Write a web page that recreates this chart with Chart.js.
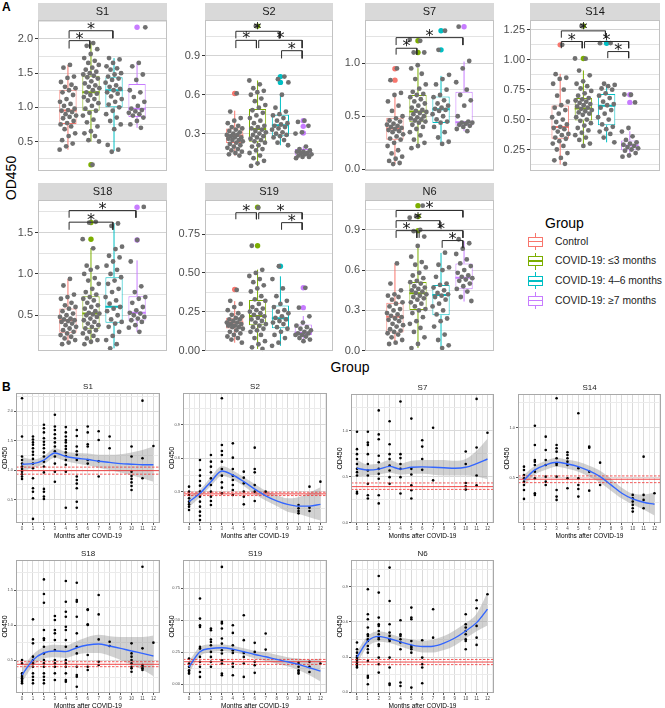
<!DOCTYPE html>
<html>
<head>
<meta charset="utf-8">
<title>OD450 by group and months after COVID-19</title>
<script src="https://cdn.jsdelivr.net/npm/chart.js@4.4.1/dist/chart.umd.min.js"></script>
<style>
html,body{margin:0;padding:0;background:#fff;}
#wrap{position:relative;width:665px;height:708px;overflow:hidden;font-family:"Liberation Sans",Arial,Helvetica,sans-serif;color:#000;}
#wrap canvas{position:absolute;}
.lbl{position:absolute;white-space:nowrap;line-height:1;}
</style>
</head>
<body>
<div id="wrap">
  <div class="lbl" style="left:2px;top:1px;font-weight:bold;font-size:12px;">A</div>
  <div class="lbl" style="left:2px;top:381px;font-weight:bold;font-size:12px;">B</div>
  <div class="lbl" style="left:11px;top:178px;font-size:14px;transform:translate(-50%,-50%) rotate(-90deg);">OD450</div>
  <div class="lbl" style="left:350px;top:367px;font-size:14px;transform:translate(-50%,-50%);">Group</div>
  <div class="lbl" style="left:545px;top:223px;font-size:14px;transform:translate(0,-50%);">Group</div>
</div>
<script>
// ---------------- DATA ----------------
const groupNames = ["Control", "COVID-19: \u22643 months", "COVID-19: 4\u20136 months", "COVID-19: \u22657 months"];
const monthsB = [0,1,2,3,4,5,6,7,8,9,10,11,12];

// Panel A: jittered values per group, box stats [lowWhisker,q1,median,q3,highWhisker], outliers [group,value], brackets [g1,g2,barY,tipY]
const ptsS1 = [
 [1.62,1.58,1.45,1.43,1.37,1.33,1.30,1.28,1.25,1.22,1.18,1.12,1.08,1.05,1.02,0.98,0.96,0.95,0.93,0.90,0.88,0.86,0.84,0.80,0.77,0.75,0.72,0.68,0.62,0.58,0.52,0.47,0.43,0.38],
 [1.94,1.90,1.85,1.78,1.72,1.68,1.65,1.62,1.58,1.55,1.52,1.50,1.48,1.46,1.44,1.42,1.38,1.35,1.32,1.30,1.28,1.25,1.22,1.20,1.18,1.15,1.12,1.10,1.06,1.02,0.98,0.95,0.92,0.88,0.82,0.78,0.72,0.65,0.62,0.58,0.52,0.50,0.16],
 [1.72,1.70,1.65,1.60,1.57,1.55,1.50,1.48,1.45,1.42,1.40,1.36,1.32,1.30,1.27,1.25,1.22,1.20,1.16,1.12,1.08,1.04,1.00,0.95,0.90,0.85,0.80,0.75,0.68,0.45,0.38,0.35],
 [2.17,1.65,1.60,1.48,1.40,1.25,1.22,1.15,1.08,1.02,0.98,0.96,0.94,0.92,0.90,0.88,0.85,0.80,0.75,0.70]];
const boxS1 = [[0.38,0.757,0.955,1.257,1.62],[0.50,0.95,1.22,1.46,1.94],[0.36,1.00,1.25,1.44,1.72],[0.70,0.86,0.98,1.34,1.66]];
const outS1 = [[2,0.16],[4,2.17]];
const sigS1 = [[1,2,1.975,1.86],[1,3,2.12,2.01]];
const ticksS1 = ["0.5","1.0","1.5","2.0"];
const rangeS1 = [0.063,2.277];

const ptsS2 = [
 [0.61,0.47,0.42,0.40,0.38,0.36,0.35,0.34,0.33,0.32,0.31,0.30,0.29,0.29,0.28,0.27,0.27,0.26,0.25,0.25,0.24,0.23,0.22,0.21,0.20,0.19,0.18,0.17,0.16,0.15,0.14,0.13],
 [1.13,0.71,0.68,0.65,0.63,0.62,0.60,0.57,0.55,0.52,0.50,0.48,0.46,0.44,0.42,0.40,0.38,0.36,0.35,0.34,0.33,0.32,0.31,0.30,0.29,0.28,0.27,0.26,0.25,0.24,0.23,0.21,0.20,0.18,0.17,0.15,0.13,0.11,0.09,0.07,0.05],
 [0.74,0.72,0.695,0.60,0.50,0.47,0.45,0.44,0.42,0.40,0.38,0.37,0.36,0.35,0.34,0.33,0.31,0.30,0.29,0.28,0.27,0.25,0.23,0.21],
 [0.40,0.39,0.36,0.31,0.30,0.20,0.18,0.17,0.16,0.16,0.15,0.15,0.14,0.14,0.13,0.12,0.12,0.11]];
const boxS2 = [[0.13,0.228,0.285,0.34,0.477],[0.05,0.236,0.336,0.49,0.71],[0.21,0.28,0.364,0.446,0.605],[0.11,0.13,0.155,0.18,0.20]];
const outS2 = [[1,0.61],[2,1.13],[3,0.74],[3,0.695],[4,0.40],[4,0.356],[4,0.305]];
const sigS2 = [[1,3,1.09,1.035],[1,2,1.02,0.96],[2,4,1.02,0.96],[3,4,0.94,0.88]];
const ticksS2 = ["0.3","0.6","0.9"];
const rangeS2 = [0.008,1.177];

const ptsS7 = [
 [0.95,0.84,0.72,0.70,0.64,0.60,0.55,0.50,0.48,0.46,0.45,0.43,0.42,0.41,0.40,0.39,0.38,0.37,0.36,0.35,0.33,0.31,0.29,0.28,0.25,0.22,0.18,0.15,0.12,0.10,0.08,0.06,0.05],
 [1.22,1.21,1.10,1.10,0.98,0.95,0.90,0.85,0.80,0.76,0.73,0.71,0.70,0.68,0.66,0.64,0.62,0.60,0.58,0.56,0.55,0.54,0.53,0.52,0.50,0.49,0.48,0.47,0.46,0.45,0.44,0.42,0.40,0.38,0.35,0.32,0.28,0.25,0.22,0.20],
 [1.305,1.125,0.89,0.85,0.80,0.75,0.70,0.68,0.65,0.62,0.60,0.58,0.57,0.56,0.55,0.52,0.50,0.47,0.45,0.44,0.40,0.35,0.30,0.26,0.24],
 [1.343,1.02,0.95,0.82,0.75,0.70,0.65,0.60,0.50,0.45,0.44,0.44,0.43,0.42,0.41,0.40,0.38,0.36]];
const boxS7 = [[0.05,0.28,0.384,0.485,0.72],[0.20,0.443,0.544,0.70,0.953],[0.24,0.437,0.565,0.687,0.88],[0.36,0.41,0.443,0.73,1.015]];
const outS7 = [[1,0.947],[1,0.84],[2,1.21],[2,1.10],[3,1.305],[3,1.125],[4,1.343]];
const sigS7 = [[1,2,1.14,1.08],[1,4,1.24,1.17]];
const ticksS7 = ["0.0","0.5","1.0"];
const rangeS7 = [-0.019,1.406];

const ptsS14 = [
 [1.125,0.88,0.85,0.84,0.80,0.75,0.70,0.65,0.62,0.60,0.58,0.55,0.52,0.50,0.48,0.46,0.44,0.43,0.42,0.40,0.38,0.37,0.35,0.34,0.32,0.30,0.28,0.25,0.22,0.18,0.16,0.13],
 [1.283,1.011,1.01,0.91,0.87,0.82,0.80,0.78,0.76,0.74,0.72,0.70,0.68,0.67,0.66,0.65,0.64,0.63,0.62,0.61,0.60,0.59,0.58,0.57,0.56,0.55,0.54,0.52,0.50,0.49,0.47,0.45,0.43,0.41,0.39,0.37,0.35,0.33,0.30,0.28],
 [1.139,1.14,0.80,0.79,0.78,0.76,0.75,0.72,0.70,0.68,0.65,0.63,0.62,0.60,0.58,0.55,0.52,0.50,0.46,0.44,0.42,0.40,0.38,0.35,0.31],
 [0.708,0.71,0.644,0.43,0.40,0.36,0.33,0.31,0.30,0.29,0.28,0.27,0.26,0.25,0.24,0.22,0.20,0.19]];
const boxS14 = [[0.125,0.339,0.439,0.619,0.883],[0.278,0.492,0.594,0.681,0.911],[0.31,0.453,0.617,0.714,0.79],[0.194,0.244,0.283,0.325,0.403]];
const outS14 = [[1,1.125],[2,1.011],[2,1.283],[3,1.139],[4,0.708],[4,0.644]];
const sigS14 = [[1,3,1.242,1.185],[1,2,1.153,1.097],[2,4,1.153,1.097],[3,4,1.069,1.014]];
const ticksS14 = ["0.25","0.50","0.75","1.00","1.25"];
const rangeS14 = [0.067,1.333];

const ptsS18 = [
 [0.94,0.86,0.75,0.72,0.70,0.65,0.62,0.60,0.58,0.55,0.52,0.50,0.48,0.46,0.45,0.44,0.43,0.42,0.40,0.38,0.36,0.34,0.32,0.30,0.28,0.26,0.24,0.22,0.20,0.17,0.15],
 [1.63,1.62,1.42,1.31,1.10,1.08,1.05,1.00,0.95,0.92,0.88,0.82,0.78,0.75,0.72,0.70,0.68,0.65,0.62,0.60,0.58,0.55,0.53,0.52,0.51,0.50,0.48,0.46,0.44,0.42,0.40,0.38,0.36,0.34,0.32,0.30,0.28,0.25,0.22,0.20,0.18,0.15],
 [1.61,1.58,1.33,1.30,1.22,1.20,1.15,1.10,1.05,1.00,0.96,0.92,0.88,0.82,0.78,0.72,0.68,0.64,0.60,0.58,0.55,0.50,0.45,0.42,0.40,0.36,0.30,0.25,0.20,0.15,0.10],
 [1.81,1.41,1.15,0.85,0.78,0.72,0.70,0.65,0.60,0.56,0.53,0.52,0.50,0.48,0.46,0.44,0.42,0.38,0.35,0.30]];
const boxS18 = [[0.15,0.289,0.441,0.582,0.94],[0.15,0.337,0.522,0.73,1.313],[0.10,0.41,0.602,0.96,1.614],[0.30,0.437,0.53,0.73,1.164]];
const outS18 = [[2,1.622],[2,1.42],[4,1.807],[4,1.41]];
const sigS18 = [[1,4,1.766,1.68],[1,3,1.626,1.534]];
const ticksS18 = ["0.5","1.0","1.5"];
const rangeS18 = [0.063,1.894];

const ptsS19 = [
 [0.39,0.32,0.30,0.28,0.26,0.24,0.23,0.22,0.21,0.20,0.20,0.19,0.18,0.18,0.17,0.17,0.16,0.16,0.15,0.15,0.14,0.13,0.12,0.11,0.10,0.09,0.08,0.07,0.05],
 [0.92,0.675,0.52,0.50,0.48,0.46,0.44,0.42,0.40,0.38,0.35,0.33,0.32,0.30,0.28,0.27,0.26,0.25,0.24,0.23,0.22,0.21,0.20,0.19,0.18,0.17,0.16,0.15,0.14,0.13,0.12,0.10,0.08,0.06,0.04,0.02,0.01],
 [0.543,0.46,0.40,0.35,0.32,0.30,0.28,0.26,0.25,0.24,0.22,0.21,0.20,0.19,0.18,0.17,0.15,0.14,0.12,0.10,0.08,0.05,0.03],
 [0.404,0.276,0.22,0.18,0.16,0.15,0.14,0.13,0.12,0.11,0.11,0.10,0.10,0.09,0.08,0.07,0.06]];
const boxS19 = [[0.05,0.141,0.18,0.211,0.318],[0.01,0.162,0.222,0.325,0.521],[0.03,0.143,0.207,0.29,0.478],[0.06,0.10,0.115,0.167,0.222]];
const outS19 = [[1,0.393],[2,0.675],[2,0.923],[3,0.543],[4,0.404],[4,0.276]];
const sigS19 = [[1,2,0.888,0.846],[2,4,0.888,0.846],[3,4,0.824,0.778]];
const ticksS19 = ["0.00","0.25","0.50","0.75"];
const rangeS19 = [-0.006,0.97];

const ptsN6 = [
 [0.65,0.50,0.45,0.42,0.41,0.40,0.38,0.36,0.35,0.33,0.31,0.30,0.28,0.27,0.26,0.25,0.24,0.23,0.22,0.20,0.19,0.18,0.16,0.15,0.14,0.13,0.12,0.10,0.08,0.06,0.05],
 [1.08,1.00,0.99,0.90,0.89,0.85,0.78,0.70,0.66,0.64,0.62,0.58,0.56,0.54,0.52,0.51,0.50,0.48,0.47,0.46,0.45,0.44,0.43,0.42,0.41,0.40,0.39,0.38,0.36,0.35,0.33,0.31,0.30,0.28,0.25,0.22,0.20,0.17,0.14,0.10,0.05,0.02],
 [0.73,0.64,0.62,0.60,0.55,0.50,0.49,0.47,0.45,0.43,0.42,0.41,0.40,0.38,0.35,0.33,0.30,0.27,0.24,0.22,0.18,0.12,0.08,0.04,0.02],
 [0.83,0.80,0.76,0.72,0.68,0.65,0.63,0.60,0.58,0.56,0.55,0.54,0.53,0.52,0.50,0.48,0.46,0.44,0.40,0.37]];
const boxN6 = [[0.05,0.136,0.252,0.358,0.65],[0.02,0.304,0.427,0.511,0.778],[0.02,0.264,0.415,0.489,0.728],[0.366,0.457,0.543,0.65,0.815]];
const outN6 = [[2,0.894],[2,1.00],[2,1.08]];
const sigN6 = [[1,4,1.044,0.993],[1,3,0.968,0.914],[1,2,0.894,0.84],[2,4,0.894,0.84],[3,4,0.82,0.766]];
const ticksN6 = ["0.0","0.3","0.6","0.9"];
const rangeN6 = [-0.005,1.122];

// Panel B: values per month (0..12), loess fit + CI, control mean [mean, low, high]
const byMonthS1B = [[2.22,1.57,1.23,1.17,1.11,1.06,1.02,0.97,0.93,0.89,0.85],[1.57,1.52,1.47,1.43,1.37,1.31,1.26,1.19,1.11,1.03,0.86,0.69,0.63,0.52,0.17],[1.77,1.71,1.64,1.54,1.48,1.43,1.37,1.30,1.23,1.14,1.06,0.96,0.68,0.63,0.55,0.51],[1.94,1.74,1.68,1.61,1.54,1.47,1.40,1.32,1.23,1.11,0.97,0.80],[1.73,1.64,1.57,1.51,1.47,1.41,1.36,1.30,1.24,1.17,1.09,0.97,0.36],[1.68,1.58,1.40,1.32,1.26,1.17,0.89,0.83,0.77,0.69,0.46,0.36],[1.74,1.64,1.44,1.40,1.17,1.11],[1.66,1.51,1.15,0.89],[1.57,1.37],[],[1.40,1.23,0.97,0.90,0.85,0.79,0.73,0.66],[2.18,1.20,0.86],[1.41]];
const fitS1B = [1.10,1.11,1.17,1.29,1.23,1.20,1.18,1.15,1.13,1.11,1.10,1.09,1.09];
const loS1B = [0.98,1.04,1.10,1.21,1.15,1.11,1.08,1.04,1.00,0.96,0.91,0.86,0.80];
const hiS1B = [1.22,1.18,1.24,1.37,1.31,1.29,1.28,1.26,1.26,1.27,1.30,1.34,1.40];
const ctrlS1B = [0.99,0.93,1.05];
const ticksS1B = ["0.5","1.0","1.5","2.0"];
const rangeS1B = [0.1,2.31];

const byMonthS2B = [[0.345,0.30,0.27,0.24,0.21,0.186,0.165,0.135],[0.585,0.495,0.444,0.396,0.354,0.30,0.255,0.21,0.165,0.12,0.083,0.044],[0.63,0.57,0.525,0.474,0.42,0.36,0.30,0.255,0.216,0.18],[1.141,0.72,0.666,0.63,0.57,0.504,0.444,0.384,0.336,0.285],[0.735,0.606,0.504,0.444,0.405,0.36,0.315,0.27],[0.48,0.426,0.375,0.30,0.255,0.186],[0.696,0.504,0.474,0.36,0.30,0.216],[0.30],[],[],[0.18,0.15,0.126,0.105],[0.345,0.156,0.126],[0.39]];
const fitS2B = [0.21,0.285,0.39,0.486,0.45,0.39,0.323,0.263,0.218,0.186,0.17,0.17,0.186];
const loS2B = [0.16,0.25,0.35,0.44,0.41,0.35,0.28,0.22,0.17,0.12,0.10,0.07,0.04];
const hiS2B = [0.26,0.32,0.43,0.53,0.49,0.43,0.37,0.31,0.27,0.24,0.25,0.29,0.34];
const ctrlS2B = [0.28,0.265,0.295];
const ticksS2B = ["0.3","0.6","0.9"];
const rangeS2B = [0.018,1.188];

const byMonthS7B = [[0.986,0.797,0.743,0.69,0.636,0.583,0.547,0.511,0.333,0.315],[0.986,0.868,0.843,0.743,0.636,0.565,0.511,0.422,0.297,0.261],[1.218,0.957,0.904,0.725,0.654,0.583,0.529,0.476,0.297,0.208],[1.10,0.85,0.743,0.69,0.618,0.565,0.493,0.422],[1.314,0.743,0.70,0.636,0.583,0.493,0.315],[1.129,0.583,0.522,0.404,0.351,0.261],[0.893,0.825,0.69,0.572],[1.029,0.458],[],[],[0.772,0.636,0.429,0.394,0.358],[1.343,0.815,0.511,0.404],[0.975]];
const fitS7B = [0.59,0.57,0.58,0.61,0.58,0.60,0.605,0.60,0.595,0.59,0.60,0.64,0.69];
const loS7B = [0.50,0.51,0.52,0.54,0.52,0.53,0.53,0.52,0.51,0.51,0.51,0.50,0.47];
const hiS7B = [0.68,0.63,0.64,0.68,0.64,0.67,0.68,0.68,0.68,0.67,0.69,0.78,0.91];
const ctrlS7B = [0.39,0.36,0.43];
const ticksS7B = ["0.0","0.5","1.0"];
const rangeS7B = [-0.005,1.396];

const byMonthS14B = [[0.61,0.577,0.527,0.494,0.46,0.427,0.377,0.287],[1.02,0.827,0.677,0.66,0.627,0.56,0.494,0.344,0.327],[0.91,0.777,0.677,0.627,0.51,0.46,0.427],[1.294,0.827,0.794,0.76,0.694,0.644,0.627,0.51,0.377,0.31,0.277],[0.754,0.727,0.694,0.66,0.627,0.494,0.394],[1.144,0.594,0.494,0.427,0.387,0.31],[0.81,0.80,0.56,0.37],[0.65,0.427],[],[],[0.327,0.294,0.26,0.227,0.194,0.16],[0.71,0.327,0.277,0.194],[0.344]];
const fitS14B = [0.477,0.577,0.627,0.654,0.637,0.61,0.567,0.51,0.427,0.344,0.287,0.254,0.234];
const loS14B = [0.42,0.53,0.58,0.61,0.59,0.56,0.51,0.45,0.37,0.29,0.23,0.18,0.12];
const hiS14B = [0.53,0.62,0.67,0.70,0.68,0.66,0.62,0.57,0.49,0.40,0.34,0.33,0.35];
const ctrlS14B = [0.484,0.45,0.517];
const ticksS14B = ["0.5","1.0"];
const rangeS14B = [0.046,1.337];

const byMonthS18B = [[0.50,0.452,0.31,0.286,0.262,0.238,0.214,0.19,0.167],[1.081,0.795,0.738,0.548,0.50,0.452,0.405,0.31,0.262,0.214,0.167],[1.652,1.443,1.319,0.929,0.81,0.786,0.69,0.595,0.50,0.452,0.405,0.31,0.262,0.214,0.167],[1.129,1.071,0.929,0.881,0.786,0.643,0.50,0.452,0.405,0.31,0.214],[1.629,1.333,1.19,1.119,0.976,0.929,0.786,0.69,0.50,0.452,0.405,0.31,0.214,0.19],[1.605,1.357,1.333,1.119,0.881,0.69,0.595,0.405,0.286,0.262,0.119],[1.224,1.214,1.01,1.00,0.571,0.405,0.357],[1.429,1.152,0.795,0.476,0.429],[0.762,0.70],[],[0.738,0.595,0.548,0.50,0.452,0.405,0.381,0.333],[1.833,0.667,0.429,0.405,0.381,0.357],[0.748]];
const fitS18B = [0.286,0.50,0.604,0.629,0.62,0.676,0.714,0.729,0.70,0.667,0.629,0.595,0.557];
const loS18B = [0.18,0.42,0.52,0.54,0.53,0.58,0.60,0.60,0.56,0.50,0.43,0.36,0.27];
const hiS18B = [0.39,0.58,0.69,0.72,0.71,0.77,0.83,0.86,0.84,0.83,0.83,0.83,0.85];
const ctrlS18B = [0.439,0.405,0.476];
const ticksS18B = ["0.5","1.0","1.5"];
const rangeS18B = [0.029,1.929];

const byMonthS19B = [[0.20,0.161,0.135,0.108,0.095,0.082],[0.67,0.513,0.461,0.448,0.291,0.278,0.213,0.174,0.135,0.095,0.056],[0.435,0.422,0.349,0.33,0.304,0.252,0.213,0.174,0.135],[0.918,0.487,0.474,0.435,0.357,0.317,0.265,0.239,0.187,0.161,0.082,0.069],[0.461,0.401,0.304,0.265,0.244,0.161,0.135,0.069],[0.539,0.344,0.244,0.213,0.161,0.056],[0.323,0.252,0.174,0.148,0.088],[0.396,0.27],[],[],[0.166,0.135,0.108,0.095,0.082],[0.174,0.135,0.095],[0.161]];
const fitS19B = [0.135,0.253,0.279,0.285,0.274,0.253,0.232,0.214,0.193,0.175,0.154,0.128,0.102];
const loS19B = [0.09,0.22,0.25,0.26,0.25,0.23,0.20,0.18,0.16,0.14,0.11,0.07,0.02];
const hiS19B = [0.18,0.29,0.31,0.31,0.30,0.28,0.26,0.25,0.23,0.21,0.20,0.19,0.20];
const ctrlS19B = [0.175,0.154,0.193];
const ticksS19B = ["0.00","0.25","0.50","0.75"];
const rangeS19B = [-0.07,0.972];

const byMonthN6B = [[0.424,0.367,0.338,0.31,0.296,0.282,0.267,0.253,0.239,0.225,0.211],[0.878,0.665,0.623,0.552,0.495,0.481,0.452,0.438,0.395,0.367,0.338,0.267,0.14,0.125,0.069],[0.992,0.85,0.637,0.58,0.566,0.523,0.495,0.466,0.452,0.41,0.395,0.296,0.239,0.168],[1.063,0.779,0.58,0.509,0.481,0.452,0.438,0.296,0.211,0.074,0.063],[0.614,0.495,0.481,0.452,0.424,0.367,0.083,0.054],[0.722,0.637,0.623,0.438,0.395,0.381,0.367,0.338,0.04],[0.444,0.296,0.239,0.211,0.077],[0.708,0.466],[],[],[0.665,0.58,0.552,0.523,0.495,0.452,0.438,0.367],[0.785,0.716,0.566,0.466,0.404],[0.836]];
const fitN6B = [0.30,0.437,0.477,0.457,0.43,0.404,0.39,0.393,0.42,0.463,0.523,0.594,0.709];
const loN6B = [0.25,0.39,0.43,0.42,0.39,0.36,0.34,0.34,0.36,0.40,0.46,0.52,0.57];
const hiN6B = [0.35,0.48,0.52,0.50,0.47,0.45,0.44,0.45,0.48,0.53,0.59,0.67,0.85];
const ctrlN6B = [0.258,0.236,0.28];
const ticksN6B = ["0.0","0.3","0.6","0.9"];
const rangeN6B = [-0.006,1.128];

// ---------------- STYLE / LAYOUT ----------------
const COLORS = ['#F8766D','#7CAE00','#00BFC4','#C77CFF'];
const FONT = '"Liberation Sans", Arial, Helvetica, sans-serif';
Chart.defaults.font.family = FONT;
Chart.defaults.animation = false;
Chart.defaults.events = [];
Chart.defaults.plugins.legend.display = false;
Chart.defaults.plugins.tooltip.enabled = false;

const wrap = document.getElementById('wrap');
function addCanvas(l,t,w,h){
  const c = document.createElement('canvas');
  c.width = w; c.height = h;
  c.style.left = l+'px'; c.style.top = t+'px';
  c.style.width = w+'px'; c.style.height = h+'px';
  wrap.appendChild(c);
  return c;
}
function tickSetup(labels, min, max){
  const major = labels.map(Number);
  const half = (major[1]-major[0])/2;
  const kmin = Math.ceil((min-major[0])/half - 1e-9);
  const kmax = Math.floor((max-major[0])/half + 1e-9);
  const vals = [];
  for (let k=kmin;k<=kmax;k++) vals.push(+(major[0]+k*half).toFixed(6));
  const lab = new Map();
  labels.forEach((s,i)=>lab.set(+major[i].toFixed(6), s));
  return {vals, lab};
}
const isMaj = (c,t)=> !!(c.tick && t.lab.has(+Number(c.tick.value).toFixed(6)));
const jit = (i)=> ((((i+1)*0.6180339887)%1)-0.5)*0.74;
function lineDs(data,color,width,order,extra){
  return Object.assign({type:'line', data, borderColor:color, borderWidth:width, pointRadius:0, fill:false, tension:0, order, borderCapStyle:'butt'}, extra||{});
}

// ---------------- PANEL A ----------------
function drawA(name, pts, box, out, sig, ticks, range, rect){
  const [L,T,Wd,H] = rect, AX=30, ST=17, PB=8, HW=0.375;
  const cv = addCanvas(L-AX, T-ST, AX+Wd+1, ST+H+PB);
  const tk = tickSetup(ticks, range[0], range[1]);
  const ds = [];
  ds.push({type:'bar', data: box.map((b,i)=>({x:i+1, y:[b[1],b[3]]})), backgroundColor:'#ffffff', borderColor:COLORS, borderWidth:1, borderSkipped:false, barPercentage:0.75, categoryPercentage:1, order:60});
  box.forEach((b,i)=>{
    const g=i+1, c=COLORS[i];
    ds.push(lineDs([{x:g,y:b[3]},{x:g,y:b[4]}], c, 1, 55));
    ds.push(lineDs([{x:g,y:b[0]},{x:g,y:b[1]}], c, 1, 55));
    ds.push(lineDs([{x:g-HW,y:b[2]},{x:g+HW,y:b[2]}], c, 2, 50));
  });
  ds.push({type:'scatter', data: out.map(o=>({x:o[0], y:o[1]})), pointBackgroundColor: out.map(o=>COLORS[o[0]-1]), pointBorderWidth:0, pointRadius:2.7, order:40});
  const grey=[]; let n=0;
  pts.forEach((arr,i)=>arr.forEach(v=>{ grey.push({x:i+1+jit(n), y:v}); n++; }));
  ds.push({type:'scatter', data:grey, pointBackgroundColor:'#707070', pointBorderWidth:0, pointRadius:2.4, order:30});
  sig.forEach(s=>{
    const a=s[0]+0.05, b=s[1]-0.05;
    ds.push(lineDs([{x:a,y:s[3]},{x:a,y:s[2]},{x:b,y:s[2]},{x:b,y:s[3]}], '#2b2b2b', 1, 10));
  });
  const deco = {id:'decoA', afterDraw(chart){
    const {ctx, chartArea:a, scales:{x,y}} = chart;
    ctx.save();
    ctx.fillStyle='#d9d9d9'; ctx.fillRect(a.left, a.top-ST, a.right-a.left, ST);
    ctx.strokeStyle='#c2c2c2'; ctx.lineWidth=1;
    ctx.strokeRect(Math.round(a.left)+0.5, Math.round(a.top)+0.5, Math.round(a.right-a.left)-1, Math.round(a.bottom-a.top)-1);
    ctx.fillStyle='#1a1a1a'; ctx.font='11px '+FONT; ctx.textAlign='center'; ctx.textBaseline='middle';
    ctx.fillText(name, (a.left+a.right)/2, a.top-ST/2+0.5);
    ctx.font='16px "DejaVu Sans", sans-serif'; ctx.textBaseline='alphabetic';
    sig.forEach(s=>{ ctx.fillText('*', x.getPixelForValue((s[0]+s[1])/2), y.getPixelForValue(s[2])+3); });
    ctx.restore();
  }};
  new Chart(cv, {
    type:'scatter',
    data:{datasets:ds},
    options:{
      responsive:false, animation:false, events:[],
      layout:{padding:{left:0, top:ST, right:1, bottom:PB}},
      scales:{
        x:{type:'linear', min:0.4, max:4.6, display:false,
           afterBuildTicks:(s)=>{ s.ticks = box.map((b,i)=>({value:i+1})); }},
        y:{type:'linear', min:range[0], max:range[1],
          afterBuildTicks:(s)=>{ s.ticks = tk.vals.map(v=>({value:v})); },
          afterFit:(s)=>{ s.width = AX; },
          ticks:{autoSkip:false, padding:2, color:'#4d4d4d', font:{size:11}, callback:(v)=> tk.lab.get(+Number(v).toFixed(6)) ?? ''},
          grid:{color:(c)=> isMaj(c,tk) ? '#d3d3d3' : '#e3e3e3', tickColor:(c)=> isMaj(c,tk) ? '#333333' : 'rgba(0,0,0,0)', tickLength:3, lineWidth:1},
          border:{display:false}
        }
      }
    },
    plugins:[deco]
  });
}

// ---------------- PANEL B ----------------
function drawB(name, byMonth, fit, lo, hi, ctrl, ticks, range, rect){
  const [L,T,Wd,H] = rect, AX=16, TOP=12, XB=17, R=2, XMIN=-0.55, XMAX=12.6;
  const cv = addCanvas(L-AX, T-TOP, AX+Wd+R, TOP+H+XB);
  const ty = tickSetup(ticks, range[0], range[1]);
  const tx = tickSetup(monthsB.map(String), XMIN, XMAX);
  const pts = [];
  byMonth.forEach((arr,i)=>arr.forEach(v=>pts.push({x:monthsB[i], y:v})));
  const hl = (v,dash,w)=> lineDs([{x:XMIN,y:v},{x:XMAX,y:v}], 'rgba(240,40,40,0.85)', w, 20, dash?{borderDash:[2.5,1.5]}:{});
  const ds = [
    {type:'line', data: monthsB.map((m,i)=>({x:m,y:lo[i]})), borderWidth:0, borderColor:'rgba(0,0,0,0)', pointRadius:0, fill:false, cubicInterpolationMode:'monotone', order:60},
    {type:'line', data: monthsB.map((m,i)=>({x:m,y:hi[i]})), borderWidth:0, borderColor:'rgba(0,0,0,0)', pointRadius:0, fill:'-1', backgroundColor:'rgba(153,153,153,0.45)', cubicInterpolationMode:'monotone', order:59},
    {type:'scatter', data:pts, pointBackgroundColor:'#000000', pointBorderWidth:0, pointRadius:1.3, order:40},
    hl(ctrl[0], false, 1), hl(ctrl[1], true, 0.9), hl(ctrl[2], true, 0.9),
    lineDs(monthsB.map((m,i)=>({x:m,y:fit[i]})), '#3366FF', 1.4, 10, {cubicInterpolationMode:'monotone'})
  ];
  const deco = {id:'decoB', afterDraw(chart){
    const {ctx, chartArea:a} = chart;
    ctx.save();
    ctx.strokeStyle='#a8a8a8'; ctx.lineWidth=1;
    ctx.strokeRect(Math.round(a.left)+0.5, Math.round(a.top)+0.5, Math.round(a.right-a.left)-1, Math.round(a.bottom-a.top)-1);
    ctx.fillStyle='#1a1a1a'; ctx.font='8px '+FONT; ctx.textAlign='center'; ctx.textBaseline='middle';
    ctx.fillText(name, (a.left+a.right)/2, a.top-6);
    ctx.restore();
  }};
  new Chart(cv, {
    type:'scatter',
    data:{datasets:ds},
    options:{
      responsive:false, animation:false, events:[],
      layout:{padding:{left:0, top:TOP, right:R, bottom:0}},
      scales:{
        x:{type:'linear', min:XMIN, max:XMAX,
          afterBuildTicks:(s)=>{ s.ticks = tx.vals.map(v=>({value:v})); },
          afterFit:(s)=>{ s.height = XB; },
          ticks:{autoSkip:false, maxRotation:0, minRotation:0, padding:1, color:'#4d4d4d', font:{size:4.5}, callback:(v)=> tx.lab.get(+Number(v).toFixed(6)) ?? ''},
          grid:{color:(c)=> isMaj(c,tx) ? '#dadada' : '#ebebeb', tickColor:(c)=> isMaj(c,tx) ? '#555555' : 'rgba(0,0,0,0)', tickLength:2, lineWidth:1},
          border:{display:false},
          title:{display:true, text:'Months after COVID-19', color:'#000', font:{size:6.5}, padding:{top:0,bottom:0}}
        },
        y:{type:'linear', min:range[0], max:range[1],
          afterBuildTicks:(s)=>{ s.ticks = ty.vals.map(v=>({value:v})); },
          afterFit:(s)=>{ s.width = AX; },
          ticks:{autoSkip:false, padding:1, color:'#4d4d4d', font:{size:4}, callback:(v)=> ty.lab.get(+Number(v).toFixed(6)) ?? ''},
          grid:{color:(c)=> isMaj(c,ty) ? '#dadada' : '#ebebeb', tickColor:(c)=> isMaj(c,ty) ? '#555555' : 'rgba(0,0,0,0)', tickLength:2, lineWidth:1},
          border:{display:false},
          title:{display:true, text:'OD450', color:'#000', font:{size:7}, padding:{top:1,bottom:0}}
        }
      }
    },
    plugins:[deco]
  });
}

// ---------------- BUILD ----------------
drawA('S1',  ptsS1,  boxS1,  outS1,  sigS1,  ticksS1,  rangeS1,  [38,20,132,152]);
drawA('S2',  ptsS2,  boxS2,  outS2,  sigS2,  ticksS2,  rangeS2,  [205,20,131,152]);
drawA('S7',  ptsS7,  boxS7,  outS7,  sigS7,  ticksS7,  rangeS7,  [365,20,132,152]);
drawA('S14', ptsS14, boxS14, outS14, sigS14, ticksS14, rangeS14, [530,20,133,152]);
drawA('S18', ptsS18, boxS18, outS18, sigS18, ticksS18, rangeS18, [38,200,132,152]);
drawA('S19', ptsS19, boxS19, outS19, sigS19, ticksS19, rangeS19, [205,200,131,152]);
drawA('N6',  ptsN6,  boxN6,  outN6,  sigN6,  ticksN6,  rangeN6,  [365,200,132,152]);

drawB('S1',  byMonthS1B,  fitS1B,  loS1B,  hiS1B,  ctrlS1B,  ticksS1B,  rangeS1B,  [16,393,146,130]);
drawB('S2',  byMonthS2B,  fitS2B,  loS2B,  hiS2B,  ctrlS2B,  ticksS2B,  rangeS2B,  [183,393,146,130]);
drawB('S7',  byMonthS7B,  fitS7B,  loS7B,  hiS7B,  ctrlS7B,  ticksS7B,  rangeS7B,  [351,394,145,129]);
drawB('S14', byMonthS14B, fitS14B, loS14B, hiS14B, ctrlS14B, ticksS14B, rangeS14B, [518,394,145,129]);
drawB('S18', byMonthS18B, fitS18B, loS18B, hiS18B, ctrlS18B, ticksS18B, rangeS18B, [16,560,146,133]);
drawB('S19', byMonthS19B, fitS19B, loS19B, hiS19B, ctrlS19B, ticksS19B, rangeS19B, [183,560,146,133]);
drawB('N6',  byMonthN6B,  fitN6B,  loN6B,  hiN6B,  ctrlN6B,  ticksN6B,  rangeN6B,  [351,560,145,133]);

// ---------------- LEGEND (HTML) ----------------
groupNames.forEach((g,i)=>{
  const cy = 241.5 + i*19.7, c = COLORS[i];
  const mk = (css)=>{ const d=document.createElement('div'); d.style.cssText='position:absolute;'+css; wrap.appendChild(d); return d; };
  mk(`left:535px;top:${cy-8.5}px;width:1px;height:17px;background:${c};`);
  mk(`left:528px;top:${cy-5}px;width:15px;height:10px;box-sizing:border-box;border:1px solid ${c};background:#fff;`);
  mk(`left:528px;top:${cy-0.75}px;width:15px;height:1.5px;background:${c};`);
  const t = mk(`left:555px;top:${cy}px;transform:translate(0,-50%);font-size:10.3px;color:#1a1a1a;white-space:nowrap;line-height:1;`);
  t.className='lbl'; t.textContent = g;
});
</script>
</body>
</html>
